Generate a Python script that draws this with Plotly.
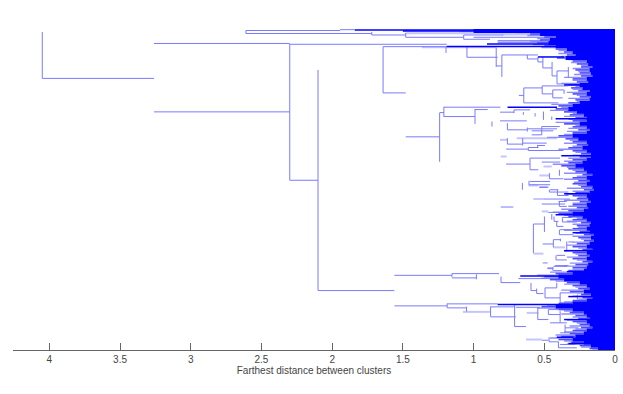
import plotly.graph_objects as graph

tick_vals = [4, 3.5, 3, 2.5, 2, 1.5, 1, 0.5, 0]
tick_text = ['4', '3.5', '3', '2.5', '2', '1.5', '1', '0.5', '0']

#leaf rows at the right edge: where the solid part starts, and how far the thin branch reaches
row_leaf = [2,5,8,11,14,17,20,23,26,29,32,35,38,41,44,47,50,53,56,59,62,65,68,71,74,77,80,83,86,89,92,95,98,101,104,107,
	110,113,116,119,122,125,128,131,134,137,140,143,146,149,152,155,158,161,164,167,170,173,176,179,182,185,188,191,194,197,
	200,203,206,209,212,215,218,221,224,227,230,233,236,239,242,245,248,251,254,257,260,263,266,269,272,275,278,281,284,287,
	290,293,296,299,302,305,308,311,314,317,320]
row_solid = [1.0,.53,.42,.46,.47,.42,.34,.3,.28,.35,.2,.19,.16,.18,.17,.16,.2,.19,.25,.23,.18,.2,.17,.18,.25,.3,.33,.27,.22,.2,.2,.25,.2,.18,.2,.3,
	.26,.2,.19,.23,.2,.17,.17,.2,.23,.28,.22,.2,.16,.2,.18,.2,.16,.15,.18,.2,.19,.17,.2,.19,.22,.3,.23,.2,.17,.18,
	.2,.18,.15,.17,.15,.18,.2,.16,.2,.18,.2,.16,.19,.2,.22,.3,.4,.36,.25,.2,.18,.22,.17,.16,.2,.3,.42,.3,.22,.2,
	.18,.2,.18,.16,.2,.22,.28,.3,.22,.17,.12]
row_reach = [1.0,.6,.5,.53,.55,.5,.42,.36,.34,.41,.3,.27,.24,.28,.25,.24,.3,.27,.33,.31,.26,.3,.25,.28,.33,.4,.42,.36,.32,.28,.3,.36,.3,.26,.3,.4,
	.35,.3,.27,.33,.3,.24,.25,.3,.33,.38,.33,.28,.23,.3,.26,.3,.24,.22,.28,.3,.27,.25,.3,.27,.33,.4,.33,.3,.24,.27,
	.3,.25,.22,.26,.22,.27,.3,.23,.3,.26,.3,.23,.28,.3,.33,.42,.5,.46,.34,.3,.26,.32,.24,.23,.3,.4,.52,.4,.32,.28,
	.26,.3,.25,.24,.3,.32,.38,.4,.31,.25,.18]
#thin branches between those rows
mid_reach = [.7,.62,.55,.6,.58,.52,.4,.4,.38,.33,.31,.24,.3,.26,.29,.36,.3,.38,.28,.3,.34,.27,.33,.27,.45,.38,.46,.3,.36,.33,.42,.28,.33,.34,.36,.48,
	.32,.36,.3,.4,.28,.3,.33,.36,.44,.34,.3,.36,.27,.36,.29,.26,.34,.3,.35,.26,.36,.3,.33,.38,.44,.36,.27,.34,.3,.26,
	.36,.28,.3,.24,.3,.34,.26,.36,.28,.34,.27,.32,.36,.3,.46,.55,.52,.42,.36,.28,.38,.27,.3,.26,.36,.48,.55,.36,.38,.3,
	.34,.27,.32,.28,.36,.42,.46,.36,.34,.24,.16]

#dark runs where the leaves are packed
dark_leaf = [1,2,15,17.5,78.3,247.5,276,308.7,28,56,90,127,165,186,204,222,243,268,291,315]
dark_from = [1.84,1.5,.905,1.19,.76,.67,.83,.412,.545,.36,.42,.38,.36,.42,.3,.36,.34,.33,.36,.33]
dark_to = [0,0,0,.3,.41,.31,.3,.294,.36,.15,.15,.15,.15,.15,.15,.15,.15,.15,.15,.15]

#pale runs
pale_leaf = [3,4.3,18.3,109.3,111,127.7,137.7,146.7,156.7,170.3,182.7,225,311,284.3,218.7,283.3,12.5,5.5]
pale_from = [1.1,1.48,1.365,.695,.813,.808,.506,.535,.613,.577,.518,.577,.629,.624,.436,1.075,.83,.8]
pale_to = [.9,.6,.835,.41,.761,.766,.447,.464,.542,.506,.471,.506,.518,.542,.353,.885,.37,.35]

#horizontal links of the tree
link_leaf = [49.5,14.5,83,151.5,262,1.5,.7,4.5,6,8.3,15.3,17.7,64,6,10.3,8.3,11.7,13.7,28.3,37,
	26,30,33,39,47,42,55,59,74,66.5,57,65,61,69,
	108,83.7,78.3,87.7,80.7,83.3,81,92,101,100,97.7,102,106,115.3,114.3,120.3,118.7,121.7,116.7,135.3,129.3,141,133.3,150,152.7,156,158.7,
	158.3,161,163.3,166.7,170.3,172.7,175.3,177.7,178.3,183.7,195.3,192.7,197.7,188.7,193.3,201,206,215.3,211,213.3,226.7,231.3,234.3,237,239.3,
	240,237.7,242,246.7,245,249.3,254,250,262,265,259.3,269.3,264.3,274.3,
	277.3,275.3,279.3,278.3,288.3,298,278.7,291,281,286,294.3,299.3,304.3,311.7,313.3,316,319.3]
link_from = [4.05,3.26,3.26,2.30,2.10,2.61,1.945,2.61,1.72,1.48,2.30,1.64,1.64,1.07,1.07,1.0,.83,.83,1.047,.84,
	.80,.62,.545,.51,.445,.41,.41,.645,.645,.68,.515,.515,.44,.44,
	1.48,1.24,1.21,1.21,.99,.813,.714,.813,.761,.62,.518,.589,.589,.761,.653,.77,.613,.613,.547,.77,.601,.601,.518,.464,.601,.608,.535,
	.535,.459,.464,.407,.506,.40,.518,.393,.808,.471,.577,.431,.412,.372,.372,.388,.393,.511,.436,.33,.412,.417,.511,.424,.478,
	.478,.436,.436,1.56,1.153,1.153,.806,.683,.594,.554,.495,.495,.388,.388,
	1.56,1.187,1.187,.88,.88,.71,.702,.546,.471,.471,.459,.353,.388,.518,.466,.388,.40]
link_to = [3.26,2.30,2.30,2.10,1.56,1.945,1.84,1.72,1.48,1.07,1.19,1.19,1.48,.79,.884,.44,.51,.37,.83,.80,
	.545,.545,.51,.445,.41,.33,.27,.515,.40,.645,.33,.44,.36,.37,
	1.24,1.21,.81,.99,.9,.714,.60,.624,.62,.41,.39,.436,.518,.653,.483,.613,.542,.365,.495,.601,.389,.542,.389,.365,.459,.459,.476,
	.471,.40,.329,.329,.318,.341,.353,.341,.719,.235,.499,.40,.365,.306,.27,.306,.294,.436,.388,.294,.353,.341,.476,.33,.436,
	.436,.341,.377,1.153,.82,.98,.67,.389,.554,.506,.412,.388,.27,.27,
	1.187,.83,1.05,.71,.702,.63,.53,.471,.40,.388,.341,.259,.282,.471,.40,.282,.27]

#vertical links: distance, first leaf, last leaf
join_dist = [4.05,2.30,2.10,2.61,1.72,1.48,1.64,1.07,1.195,1.047,.84,.80,.62,.545,.51,.445,.41,.33,.645,.515,.44,.36,
	1.24,1.21,.99,.87,.714,.648,.565,.506,.447,.761,.62,.518,.761,.653,.613,.547,.601,.464,.393,.608,.655,
	.464,.407,.393,.499,.577,.447,.431,.412,.372,.393,.436,.386,.341,.417,.44,
	1.153,.98,.806,.594,.554,.495,.412,.388,.266,1.187,1.05,.88,.71,.546,.471,.388,.353,.466,.40]
join_top = [3,15,41,1.5,3,4,17.7,6,18,18,19,26,26,28,28,33,42,38,59,57,61,61,
	84,78,80,92.7,81,83.3,84.3,82.7,87.7,94.3,98.7,97.7,109.3,109.3,118.7,116,129.3,144.3,141,152,154.3,
	161,161,172.7,187.7,195.3,185.3,187.7,192.7,188.7,201,211,210,212.7,226.7,238.7,
	245,245.7,248,254.3,260,259.3,254.3,264.3,266,275,278,278,276,279.3,281,282.7,296,308.7,313.3]
join_bottom = [49.5,151.5,262,4.5,6,8.3,64,10.3,24,28.3,38,48,30,33,39,47,55,49,74,65,69,65,
	133,88,95,97.7,84.3,86,87.7,91,91,101,102.7,106,115.3,116.7,121.7,119.3,141,150,147,156,161,
	163.3,166.7,177.7,203.3,224.3,191,192.7,197.7,193.3,206,218.7,212.7,222.7,231.3,242,
	248.5,250.7,254,262,265,269.3,259.3,274.3,271,279.3,283,288,298,291,286,294.3,304.3,313.3,319.3]


def runs(leaves, starts, ends):
	xs = list()
	ys = list()
	for i in range(len(leaves)):
		xs += [starts[i], ends[i], None]
		ys += [leaves[i], leaves[i], None]
	return xs, ys


def joins(dists, tops, bottoms):
	xs = list()
	ys = list()
	for i in range(len(dists)):
		xs += [dists[i], dists[i], None]
		ys += [tops[i], bottoms[i], None]
	return xs, ys


fig = graph.Figure()

x, y = runs(pale_leaf, pale_from, pale_to)
fig.add_trace(graph.Scatter(x = x, y = y, mode = 'lines', line = dict(color = '#c4c4ff', width = 2)))

x, y = runs([v + 1.5 for v in row_leaf], mid_reach, [0] * len(row_leaf))
fig.add_trace(graph.Scatter(x = x, y = y, mode = 'lines', line = dict(color = '#8c8cff', width = 1.4)))

x, y = runs(link_leaf, link_from, link_to)
fig.add_trace(graph.Scatter(x = x, y = y, mode = 'lines', line = dict(color = '#7a7aff', width = 1)))

x, y = joins(join_dist, join_top, join_bottom)
fig.add_trace(graph.Scatter(x = x, y = y, mode = 'lines', line = dict(color = '#7a7aff', width = 1)))

x, y = runs(row_leaf, row_reach, row_solid)
fig.add_trace(graph.Scatter(x = x, y = y, mode = 'lines', line = dict(color = '#4a4aff', width = 1.6)))

x, y = runs(row_leaf, row_solid, [0] * len(row_leaf))
fig.add_trace(graph.Scatter(x = x, y = y, mode = 'lines', line = dict(color = '#0000ff', width = 4)))

x, y = runs(dark_leaf, dark_from, dark_to)
fig.add_trace(graph.Scatter(x = x, y = y, mode = 'lines', line = dict(color = '#0000ff', width = 1.5)))

fig.update_layout(
	width = 623, height = 394,
	margin = dict(l = 13, r = 5, t = 29, b = 44),
	plot_bgcolor = 'white', paper_bgcolor = 'white',
	showlegend = False,
	font = dict(family = 'Liberation Sans', size = 10, color = '#444444'),
)
fig.update_xaxes(
	range = [4.257, 0],
	tickmode = 'array', tickvals = tick_vals, ticktext = tick_text,
	ticks = 'inside', ticklen = 7, tickcolor = '#666666', tickwidth = 1,
	showline = True, linecolor = '#666666', linewidth = 1,
	showgrid = False, zeroline = False,
	ticklabelstandoff = 0,
	title = dict(text = 'Farthest distance between clusters', standoff = 2, font = dict(size = 10)),
)
fig.update_yaxes(range = [321.5, 0], visible = False, showgrid = False, zeroline = False)

#the page margin would push the picture off the window
fig.write_html("out.html", config = dict(displayModeBar = False), post_script = "document.body.style.margin = '0';")
